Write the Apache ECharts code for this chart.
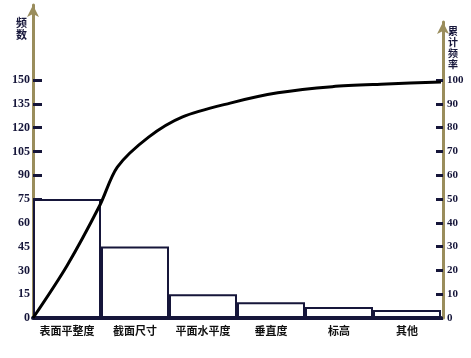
<!DOCTYPE html>
<html>
<head>
<meta charset="utf-8">
<script src="https://cdn.jsdelivr.net/npm/echarts@6/dist/echarts.min.js"></script>
<style>html,body{margin:0;padding:0;background:#fff}#c{width:471px;height:358px}</style>
</head>
<body>
<div id="c"></div>
<script>
var categories = ['表面平整度', '截面尺寸', '平面水平度', '垂直度', '标高', '其他'];
var frequency = [75, 45, 15, 10, 7, 5];
var freqTicks = [0, 15, 30, 45, 60, 75, 90, 105, 120, 135, 150];
var pctTicks = [0, 10, 20, 30, 40, 50, 60, 70, 80, 90, 100];
// cumulative frequency curve (position in category units, percent)
var curveX =   [0, 0.5, 0.985, 1.24, 1.7, 2.2, 2.9, 3.6, 4.4, 5.2, 6.0];
var curvePct = [0, 22, 47.5, 63.4, 76, 84.5, 90.3, 94.6, 97.2, 98.3, 99.2];

var navy = '#16163a';
var olive = '#9a8d5c';
var chart = echarts.init(document.getElementById('c'));
var lineData = curveX.map(function (x, i) { return [x, curvePct[i]]; });

chart.setOption({
  animation: false,
  backgroundColor: '#fff',
  grid: [
    {left: 33, right: 30, top: 5, bottom: 40},
    {left: 33, right: 30, top: 22, bottom: 40}
  ],
  xAxis: [
    {type: 'category', gridIndex: 0, data: categories, boundaryGap: true,
     axisLine: {lineStyle: {color: navy, width: 4}},
     axisTick: {show: false},
     axisLabel: {interval: 0, color: '#111', fontFamily: 'Noto Sans CJK SC', fontWeight: 'bold', fontSize: 11, margin: 7}},
    {type: 'value', gridIndex: 1, min: 0, max: 6, show: false}
  ],
  yAxis: [
    {type: 'value', gridIndex: 0, position: 'left', min: 0, max: 197.3,
     name: '频\n数', nameLocation: 'end', nameGap: -12,
     nameTextStyle: {align: 'right', verticalAlign: 'top', padding: [0, 6, 0, 0], color: navy,
       fontFamily: 'Noto Sans CJK SC', fontWeight: 'bold', fontSize: 11, lineHeight: 12},
     axisLine: {show: true, onZero: false, symbol: ['none', 'arrow'], symbolSize: [9, 12], lineStyle: {color: olive, width: 3}},
     axisTick: {show: true, inside: true, length: 9, customValues: freqTicks, lineStyle: {color: navy, width: 3}},
     axisLabel: {customValues: freqTicks, margin: 3, color: navy, fontFamily: 'Liberation Serif', fontWeight: 'bold', fontSize: 12},
     splitLine: {show: false}},
    {type: 'value', gridIndex: 1, position: 'right', offset: 2, min: 0, max: 124.37,
     name: '累\n计\n频\n率', nameLocation: 'end', nameGap: -4,
     nameTextStyle: {align: 'left', verticalAlign: 'top', padding: [0, 0, 0, 5], color: navy,
       fontFamily: 'Noto Sans CJK SC', fontWeight: 'bold', fontSize: 10, lineHeight: 11},
     axisLine: {show: true, onZero: false, symbol: ['none', 'arrow'], symbolSize: [9, 12], lineStyle: {color: olive, width: 3}},
     axisTick: {show: true, inside: true, length: 7, customValues: pctTicks, lineStyle: {color: navy, width: 3}},
     axisLabel: {customValues: pctTicks, margin: 4, color: navy, fontFamily: 'Liberation Serif', fontWeight: 'bold', fontSize: 11},
     splitLine: {show: false}}
  ],
  series: [
    {type: 'bar', xAxisIndex: 0, yAxisIndex: 0, data: frequency, barCategoryGap: '0%',
     itemStyle: {color: '#fff', borderColor: navy, borderWidth: 2}},
    {type: 'line', xAxisIndex: 1, yAxisIndex: 1, data: lineData, smooth: 0.3, showSymbol: false,
     lineStyle: {color: '#000', width: 3}, z: 5}
  ]
});
</script>
</body>
</html>
